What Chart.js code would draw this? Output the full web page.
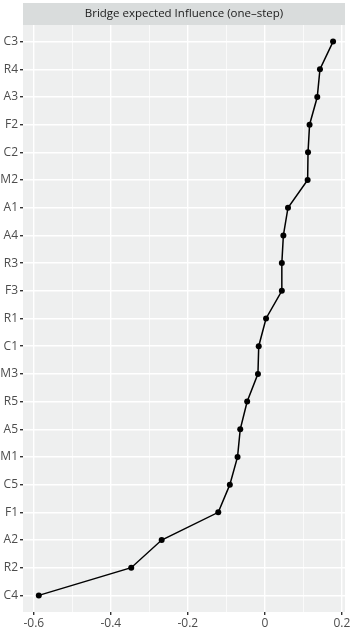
<!DOCTYPE html>
<html>
<head>
<meta charset="utf-8">
<script src="https://cdn.jsdelivr.net/npm/chart.js@4/dist/chart.umd.min.js"></script>
<style>
html,body{margin:0;padding:0;background:#fff;}
#wrap{width:350px;height:632px;position:relative;}
</style>
</head>
<body>
<div id="wrap"><canvas id="c"></canvas></div>
<script>
// Categories, top to bottom
const categories = ["C3","R4","A3","F2","C2","M2","A1","A4","R3","F3","R1","C1","M3","R5","A5","M1","C5","F1","A2","R2","C4"];
// Bridge expected influence (one-step)
const influence = [0.177,0.143,0.136,0.116,0.112,0.111,0.060,0.048,0.044,0.044,0.003,-0.016,-0.018,-0.046,-0.064,-0.071,-0.091,-0.121,-0.268,-0.347,-0.587];
// x axis ticks
const xMajorTicks = [-0.6,-0.4,-0.2,0,0.2];
const xMajorLabels = ["-0.6","-0.4","-0.2","0","0.2"];
const xMinorTicks = [-0.5,-0.3,-0.1,0.1];
const stripTitle = "Bridge expected Influence (one\u2013step)";

const allX = xMajorTicks.concat(xMinorTicks).sort((a,b)=>a-b);
const isMajor = v => xMajorTicks.some(m => Math.abs(m - v) < 1e-9);

const panelPlugin = {
  id: 'panel',
  beforeDraw(chart) {
    const {ctx, chartArea: a} = chart;
    ctx.save();
    ctx.fillStyle = '#eeefef';
    ctx.fillRect(a.left, a.top, a.right - a.left, a.bottom - a.top);
    ctx.fillStyle = '#d9dcdc';
    ctx.fillRect(a.left, 3, a.right - a.left, a.top - 3);
    ctx.restore();
  }
};

new Chart(document.getElementById('c'), {
  type: 'line',
  data: {
    datasets: [{
      data: influence.map((v, i) => ({x: v, y: i})),
      borderColor: '#000',
      backgroundColor: '#000',
      borderWidth: 1.5,
      pointRadius: 3,
      pointHoverRadius: 3,
      pointBackgroundColor: '#000',
      pointBorderWidth: 0,
      tension: 0,
      fill: false
    }]
  },
  options: {
    responsive: true,
    maintainAspectRatio: false,
    animation: false,
    layout: {padding: {top: 3, right: 5, left: 0, bottom: 0}},
    plugins: {
      legend: {display: false},
      tooltip: {enabled: false},
      title: {
        display: true,
        text: stripTitle,
        fullSize: false,
        color: '#1a1a1a',
        font: {family: 'Open Sans', size: 11.5, weight: 'normal', lineHeight: 1.2},
        padding: {top: 4, bottom: 4.2}
      }
    },
    scales: {
      x: {
        type: 'linear',
        min: -0.628,
        max: 0.208,
        afterBuildTicks: s => { s.ticks = allX.map(v => ({value: v})); },
        afterFit: s => { s.height = 20; s.paddingLeft = 0; s.paddingRight = 0; },
        border: {display: false},
        grid: {
          color: '#ffffff',
          lineWidth: c => isMajor(c.tick.value) ? 1.4 : 0.7,
          tickColor: c => isMajor(c.tick.value) ? '#333333' : 'rgba(0,0,0,0)',
          tickLength: 3,
          drawTicks: true
        },
        ticks: {
          autoSkip: false,
          maxRotation: 0,
          padding: 1,
          color: '#4d4d4d',
          font: {family: 'Open Sans', size: 12},
          callback: v => { const i = xMajorTicks.findIndex(m => Math.abs(m - v) < 1e-9); return i >= 0 ? xMajorLabels[i] : ''; }
        }
      },
      y: {
        type: 'linear',
        reverse: true,
        min: -0.6,
        max: categories.length - 1 + 0.6,
        afterBuildTicks: s => { s.ticks = categories.map((c, i) => ({value: i})); },
        afterFit: s => { s.width = 23; s.paddingTop = 0; s.paddingBottom = 0; },
        border: {display: false},
        grid: {
          color: '#ffffff',
          lineWidth: 1.4,
          tickColor: '#333333',
          tickLength: 3,
          drawTicks: true
        },
        ticks: {
          autoSkip: false,
          padding: 2,
          color: '#4d4d4d',
          font: {family: 'Open Sans', size: 12},
          callback: v => categories[v]
        }
      }
    }
  },
  plugins: [panelPlugin]
});
</script>
</body>
</html>
